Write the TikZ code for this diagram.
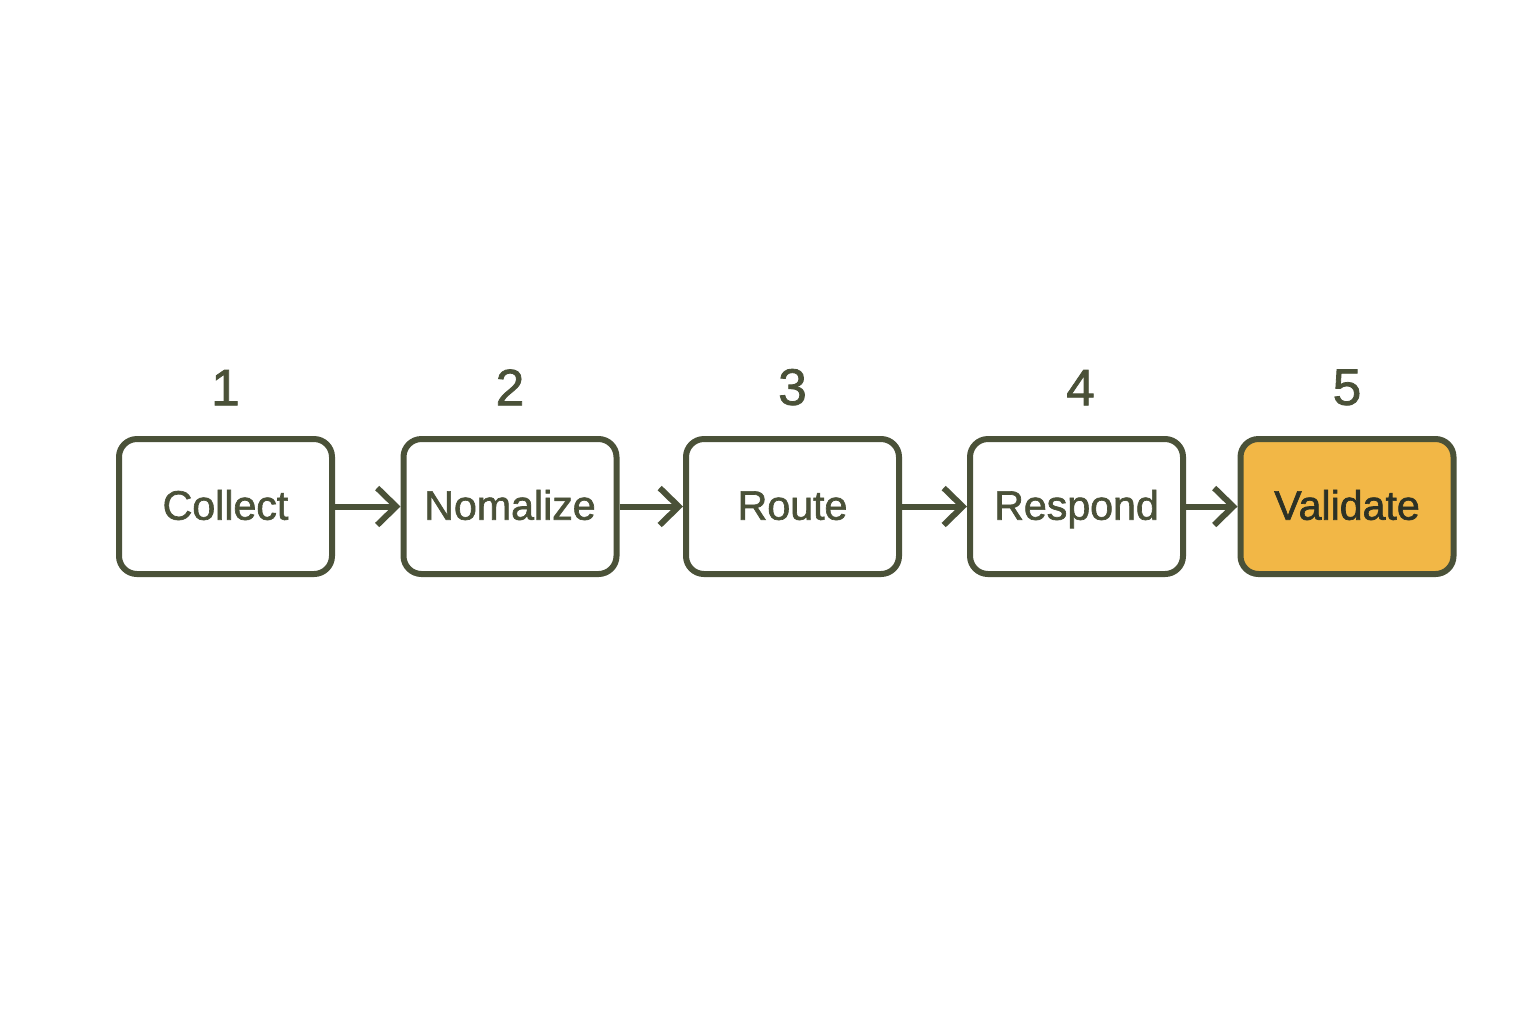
\documentclass[tikz,border=0pt]{standalone}
\usepackage{fontspec}
\setmainfont{Liberation Sans}
\newfontfamily\stepfont[FakeBold=1.6]{Liberation Sans}
\usetikzlibrary{arrows.meta,positioning}

\definecolor{stepline}{HTML}{4A5138}
\definecolor{stepfill}{HTML}{F2B746}
\definecolor{steptext}{HTML}{2C3125}

\tikzset{
  stepbox/.style={draw=stepline, line width=0.06cm, rounded corners=0.18cm,
    minimum width=2.13cm, minimum height=1.35cm, fill=white,
    text height=0.8em, text depth=0.05em,
    text=stepline, font=\stepfont\fontsize{11.7}{14}\selectfont},
  donebox/.style={stepbox, fill=stepfill, text=steptext},
  stepnum/.style={text=stepline, inner sep=0pt, font=\stepfont\fontsize{14.6}{16}\selectfont},
  steparrow/.style={draw=stepline, line width=0.06cm,
    -{Straight Barb[length=0.19cm, width=0.37cm, line width=0.06cm]}}
}

\begin{document}
\begin{tikzpicture}
    % Fix the page to the reference size
    \useasboundingbox (0,0) rectangle (15.36,-10.24);

    % Five steps in a row
    \node[stepbox] (collect) at (2.255,-5.065) {Collect};
    \node[stepbox] (normalize) at (5.10,-5.065) {Nomalize};
    \node[stepbox] (route) at (7.925,-5.065) {Route};
    \node[stepbox] (respond) at (10.765,-5.065) {Respond};
    \node[donebox] (validate) at (13.47,-5.065) {Validate};

    % Step numbers above the boxes
    \node[stepnum, above=0.3cm of collect] (n1) {1};
    \node[stepnum, above=0.3cm of normalize] (n2) {2};
    \node[stepnum, above=0.3cm of route] (n3) {3};
    \node[stepnum, above=0.3cm of respond, xshift=0.04cm] (n4) {4};
    \node[stepnum, above=0.3cm of validate] (n5) {5};

    % Arrows between the steps
    \draw[steparrow] (collect) -- (normalize);
    \draw[steparrow] (normalize) -- (route);
    \draw[steparrow] (route) -- (respond);
    \draw[steparrow] (respond) -- (validate);
\end{tikzpicture}
\end{document}
